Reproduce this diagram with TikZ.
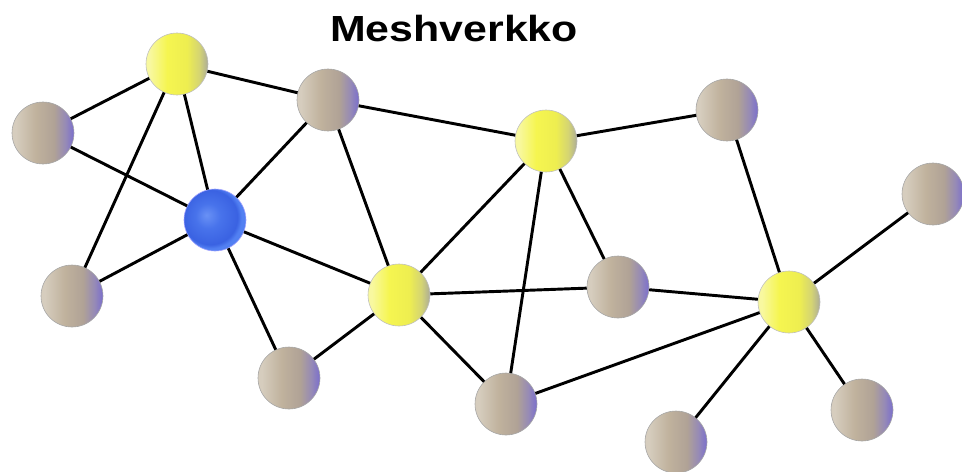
\documentclass[tikz,border=0pt]{standalone}
\usepackage{fontspec}
\setmainfont{Liberation Sans}
\newfontfamily\titlefont[FakeStretch=1.18]{Liberation Sans}
\usepackage{tikz}
\usepackage{xcolor}

% ball colours
\definecolor{greyhi}{RGB}{214,205,190}
\definecolor{greymid}{RGB}{192,178,157}
\definecolor{greylow}{RGB}{176,162,150}
\definecolor{greypurple}{RGB}{150,138,182}
\definecolor{greyrim}{RGB}{122,110,205}
\definecolor{yelhi}{RGB}{248,248,160}
\definecolor{yelmid}{RGB}{245,245,80}
\definecolor{yellow2}{RGB}{238,238,80}
\definecolor{yelgrey}{RGB}{212,212,115}
\definecolor{yelrim}{RGB}{172,172,152}
\definecolor{bluehi}{RGB}{105,145,245}
\definecolor{bluemid}{RGB}{72,115,235}
\definecolor{bluelow}{RGB}{58,98,226}
\definecolor{bluerim}{RGB}{82,128,242}

% the ball spans 25bp..75bp of a shading
\pgfdeclarehorizontalshading{greyball}{100bp}{%
  color(0bp)=(greyhi); color(28bp)=(greyhi); color(44bp)=(greymid);
  color(59bp)=(greylow); color(68bp)=(greypurple); color(75bp)=(greyrim);
  color(100bp)=(greyrim)}
\pgfdeclarehorizontalshading{yellowball}{100bp}{%
  color(0bp)=(yelhi); color(28bp)=(yelhi); color(42bp)=(yelmid);
  color(58bp)=(yellow2); color(68bp)=(yelgrey); color(75bp)=(yelrim);
  color(100bp)=(yelrim)}
\pgfdeclareradialshading{blueball}{\pgfpoint{-7bp}{4bp}}{%
  color(0bp)=(bluehi); color(10bp)=(bluemid); color(22bp)=(bluelow);
  color(25bp)=(bluerim); color(50bp)=(bluerim)}

\begin{document}
\begin{tikzpicture}[
  x=0.03cm, y=-0.03cm,
  ball/.style={circle, inner sep=0pt, minimum size=1.86cm, line width=0.5pt},
  client/.style={ball, shading=greyball, draw=gray!70},
  router/.style={ball, shading=yellowball, draw=gray!50},
  gateway/.style={ball, shading=blueball, draw=blue!35},
  link/.style={line width=2.5pt, black}
  ]
  \useasboundingbox (0,0) rectangle (962,471);
  \node[font=\titlefont\fontsize{31}{36}\selectfont\bfseries, anchor=base,
    inner sep=0pt] (title) at (454,41) {Meshverkko};

  % routers and gateway
  \node[router] (r1) at (177,64) {};
  \node[router] (r2) at (546,141) {};
  \node[router] (r3) at (399,295) {};
  \node[router] (r4) at (789,302) {};
  \node[gateway] (gw) at (215,220) {};

  % clients
  \node[client] (c1) at (43,133) {};
  \node[client] (c2) at (328,100) {};
  \node[client] (c3) at (727,110) {};
  \node[client] (c4) at (933,194) {};
  \node[client] (c5) at (72,296) {};
  \node[client] (c6) at (618,287) {};
  \node[client] (c7) at (289,378) {};
  \node[client] (c8) at (506,404) {};
  \node[client] (c9) at (862,410) {};
  \node[client] (c10) at (676,442) {};

  \draw[link] (c1) -- (r1);
  \draw[link] (c1) -- (gw);
  \draw[link] (r1) -- (c2);
  \draw[link] (r1) -- (gw);
  \draw[link] (r1) -- (c5);
  \draw[link] (c2) -- (gw);
  \draw[link] (c2) -- (r2);
  \draw[link] (c2) -- (r3);
  \draw[link] (gw) -- (c5);
  \draw[link] (gw) -- (r3);
  \draw[link] (gw) -- (c7);
  \draw[link] (r3) -- (c7);
  \draw[link] (r3) -- (r2);
  \draw[link] (r3) -- (c6);
  \draw[link] (r3) -- (c8);
  \draw[link] (r2) -- (c3);
  \draw[link] (r2) -- (c6);
  \draw[link] (r2) -- (c8);
  \draw[link] (c3) -- (r4);
  \draw[link] (c6) -- (r4);
  \draw[link] (c8) -- (r4);
  \draw[link] (r4) -- (c4);
  \draw[link] (r4) -- (c9);
  \draw[link] (r4) -- (c10);
\end{tikzpicture}
\end{document}
